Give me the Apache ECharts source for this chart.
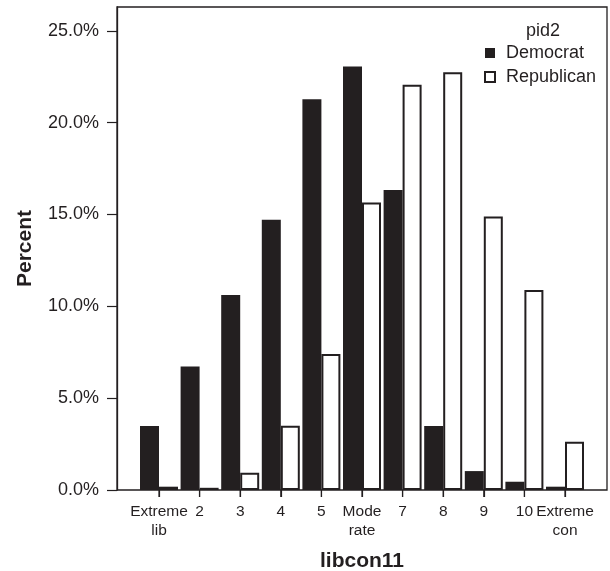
<!DOCTYPE html>
<html>
<head>
<meta charset="utf-8">
<script src="https://cdn.jsdelivr.net/npm/echarts@6/dist/echarts.min.js"></script>
<style>
  html, body { margin: 0; padding: 0; background: #fff; }
  #chart { width: 610px; height: 571px; }
</style>
</head>
<body>
<div id="chart"></div>
<script>
const categories = ['Extreme\nlib', '2', '3', '4', '5', 'Mode\nrate', '7', '8', '9', '10', 'Extreme\ncon'];
const democrat = [3.49, 6.72, 10.62, 14.71, 21.28, 23.06, 16.34, 3.49, 1.03, 0.45, 0.18];
const republican = [0.18, 0.12, 0.94, 3.50, 7.41, 15.65, 22.06, 22.75, 14.89, 10.89, 2.63];
const yTicks = [0, 5, 10, 15, 20, 25];
const seriesNames = ['Democrat', 'Republican'];

const INK = '#231f20';
const FONT = '"Liberation Sans", Arial, Helvetica, sans-serif';
const Y_MAX = 26.3;
const WIDE = { left: -200, top: -200, right: -200, bottom: -200 };

const chart = echarts.init(document.getElementById('chart'), null, { renderer: 'canvas' });

chart.setOption({
  animation: false,
  backgroundColor: '#ffffff',
  textStyle: { fontFamily: FONT, color: INK },
  title: {
    text: 'pid2',
    left: 538,
    top: 17,
    textAlign: 'center',
    textStyle: { fontFamily: FONT, fontSize: 18, fontWeight: 'normal', color: INK }
  },
  legend: {
    orient: 'vertical',
    left: 479,
    top: 38,
    itemWidth: 10,
    itemHeight: 10,
    itemGap: 4,
    icon: 'rect',
    data: seriesNames,
    textStyle: { fontFamily: FONT, fontSize: 18, color: INK, lineHeight: 20, padding: [0, 0, 0, 6] }
  },
  grid: [
    { left: 117, right: 3, top: 7, bottom: 81, outerBounds: WIDE, show: true, borderColor: INK, borderWidth: 1.3, backgroundColor: 'transparent' },
    { left: 138.7, right: 24.7, top: 7, bottom: 81, outerBounds: WIDE }
  ],
  xAxis: [
    { gridIndex: 0, type: 'value', min: 0, max: 1, show: false },
    {
      gridIndex: 1,
      type: 'category',
      data: categories,
      boundaryGap: true,
      axisLine: { show: false },
      axisTick: { show: true, alignWithLabel: true, length: 7, lineStyle: { color: INK, width: 1.2 } },
      axisLabel: { interval: 0, fontFamily: FONT, fontSize: 15.5, color: INK, lineHeight: 19, margin: 12 },
      name: 'libcon11',
      nameLocation: 'middle',
      nameGap: 61,
      nameTextStyle: { fontFamily: FONT, fontSize: 21, fontWeight: 'bold', color: INK }
    }
  ],
  yAxis: [
    {
      gridIndex: 0,
      type: 'value',
      min: 0,
      max: Y_MAX,
      interval: 5,
      splitLine: { show: false },
      axisLine: { show: true, lineStyle: { color: INK, width: 1.3 } },
      axisTick: { show: true, length: 10, customValues: yTicks, lineStyle: { color: INK, width: 1.2 } },
      axisLabel: {
        fontFamily: FONT, fontSize: 18, color: INK, margin: 18,
        customValues: yTicks,
        formatter: v => v.toFixed(1) + '%'
      },
      name: 'Percent',
      nameLocation: 'middle',
      nameRotate: 90,
      nameGap: 81,
      nameTextStyle: { fontFamily: FONT, fontSize: 21, fontWeight: 'bold', color: INK }
    },
    { gridIndex: 1, type: 'value', min: 0, max: Y_MAX, show: false }
  ],
  series: [
    {
      name: seriesNames[0],
      type: 'bar',
      xAxisIndex: 1,
      yAxisIndex: 1,
      data: democrat,
      barWidth: 19,
      barGap: '0%',
      itemStyle: { color: INK }
    },
    {
      name: seriesNames[1],
      type: 'bar',
      xAxisIndex: 1,
      yAxisIndex: 1,
      data: republican,
      barWidth: 19,
      barGap: '0%',
      itemStyle: { color: '#ffffff', borderColor: INK, borderWidth: 2 }
    },
    {
      name: 'ticks',
      type: 'custom',
      xAxisIndex: 1,
      yAxisIndex: 1,
      silent: true,
      clip: false,
      z: 5,
      data: categories.map((c, i) => [i, 0]),
      renderItem: function (params, api) {
        const p = api.coord([api.value(0), 0]);
        return {
          type: 'line',
          shape: { x1: p[0], y1: p[1], x2: p[0], y2: p[1] + 7 },
          style: { stroke: INK, lineWidth: 1.2 }
        };
      }
    }
  ]
});
</script>
</body>
</html>
